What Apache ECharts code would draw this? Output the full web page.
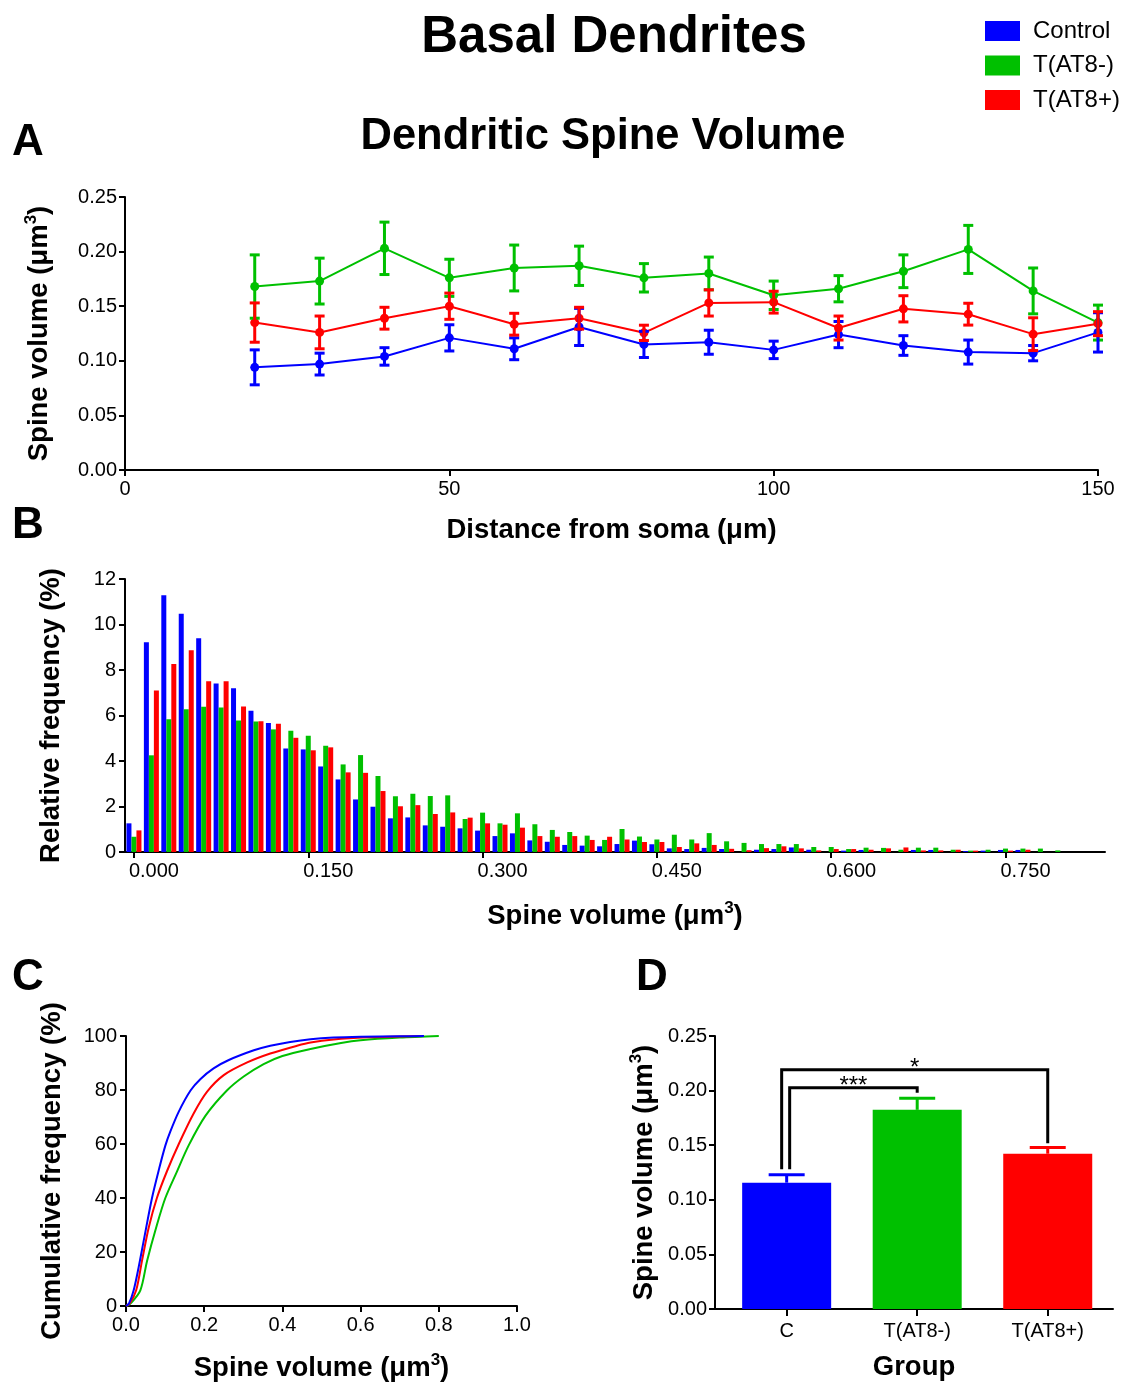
<!DOCTYPE html>
<html>
<head>
<meta charset="utf-8">
<script src="https://cdn.jsdelivr.net/npm/echarts@6/dist/echarts.min.js"></script>
<style>
html,body{margin:0;padding:0;background:#fff;}
#chart{width:1126px;height:1383px;}
</style>
</head>
<body>
<div id="chart"></div>
<script>
// ---------- DATA ----------
const groupNames = ['Control', 'T(AT8-)', 'T(AT8+)'];
const groupLabels = ['C', 'T(AT8-)', 'T(AT8+)'];

// Panel A: spine volume vs distance from soma
const distanceUm = [20, 30, 40, 50, 60, 70, 80, 90, 100, 110, 120, 130, 140, 150];
const ctrlMeanA = [0.094, 0.097, 0.104, 0.121, 0.111, 0.131, 0.115, 0.117, 0.110, 0.124, 0.114, 0.108, 0.107, 0.126];
const ctrlSemA  = [0.016, 0.010, 0.008, 0.012, 0.010, 0.017, 0.012, 0.011, 0.008, 0.012, 0.009, 0.011, 0.007, 0.018];
const negMeanA  = [0.168, 0.173, 0.203, 0.176, 0.185, 0.187, 0.176, 0.180, 0.160, 0.166, 0.182, 0.202, 0.164, 0.135];
const negSemA   = [0.029, 0.021, 0.024, 0.017, 0.021, 0.018, 0.013, 0.015, 0.013, 0.012, 0.015, 0.022, 0.021, 0.016];
const posMeanA  = [0.135, 0.126, 0.139, 0.150, 0.1335, 0.139, 0.1256, 0.153, 0.1537, 0.130, 0.1476, 0.1427, 0.1244, 0.134];
const posSemA   = [0.018, 0.015, 0.010, 0.012, 0.010, 0.010, 0.007, 0.012, 0.010, 0.011, 0.012, 0.010, 0.015, 0.011];

// Panel B: relative frequency histogram (bin centres, um^3)
const binCenters = [0.000, 0.015, 0.030, 0.045, 0.060, 0.075, 0.090, 0.105, 0.120, 0.135,
  0.150, 0.165, 0.180, 0.195, 0.210, 0.225, 0.240, 0.255, 0.270, 0.285,
  0.300, 0.315, 0.330, 0.345, 0.360, 0.375, 0.390, 0.405, 0.420, 0.435,
  0.450, 0.465, 0.480, 0.495, 0.510, 0.525, 0.540, 0.555, 0.570, 0.585,
  0.600, 0.615, 0.630, 0.645, 0.660, 0.675, 0.690, 0.705, 0.720, 0.735,
  0.750, 0.765, 0.780, 0.795];
const ctrlFreq = [1.26, 9.22, 11.29, 10.47, 9.40, 7.41, 7.20, 6.21, 5.67, 4.55,
  4.51, 3.76, 3.19, 2.31, 1.99, 1.48, 1.52, 1.17, 1.11, 1.04,
  0.94, 0.70, 0.82, 0.51, 0.45, 0.31, 0.28, 0.25, 0.35, 0.50,
  0.34, 0.16, 0.13, 0.18, 0.13, 0, 0.10, 0.13, 0.20, 0.10,
  0, 0.06, 0.09, 0, 0, 0.09, 0.09, 0, 0.04, 0.06,
  0.09, 0.09, 0, 0];
const negFreq = [0.67, 4.25, 5.83, 6.27, 6.38, 6.35, 5.78, 5.74, 5.39, 5.33,
  5.11, 4.67, 3.85, 4.26, 3.34, 2.45, 2.56, 2.46, 2.49, 1.45,
  1.73, 1.26, 1.70, 1.22, 0.97, 0.88, 0.72, 0.53, 1.01, 0.68,
  0.55, 0.76, 0.55, 0.83, 0.47, 0.40, 0.35, 0.35, 0.35, 0.22,
  0.22, 0.13, 0.19, 0.18, 0.10, 0.19, 0.19, 0.10, 0.06, 0.10,
  0.15, 0.15, 0.15, 0.07];
const posFreq = [0.95, 7.10, 8.26, 8.87, 7.51, 7.51, 6.40, 5.75, 5.64, 5.02,
  4.47, 4.60, 3.50, 3.48, 2.68, 2.01, 2.06, 1.67, 1.74, 1.51,
  1.26, 1.20, 1.07, 0.70, 0.67, 0.70, 0.53, 0.67, 0.55, 0.44,
  0.44, 0.22, 0.38, 0.31, 0.14, 0.08, 0.17, 0.25, 0.16, 0.07,
  0.13, 0.13, 0.10, 0.16, 0.20, 0.07, 0.07, 0.10, 0.06, 0,
  0.06, 0.10, 0, 0];
const histTicks = [0, 0.15, 0.30, 0.45, 0.60, 0.75];

// Panel C: cumulative frequency [volume, %]
const ctrlCum = [[0,0],[0.008,1],[0.0196,5.8],[0.0324,14.4],[0.0452,24.1],[0.0665,40],[0.085,51],[0.1006,59.4],
  [0.113,64.5],[0.135,72],[0.165,79.8],[0.19,84],[0.224,88],[0.263,91.1],[0.327,94.7],[0.369,96.4],
  [0.42,97.8],[0.472,98.8],[0.531,99.4],[0.6,99.7],[0.7,99.9],[0.762,100]];
const negCum = [[0,0],[0.012,1],[0.0367,5.8],[0.054,16.8],[0.077,29],[0.1006,40],[0.130,49.7],[0.160,59.4],
  [0.203,70.4],[0.258,79.8],[0.301,85],[0.352,89.6],[0.4,92.6],[0.472,95.2],[0.55,97.4],[0.6,98.4],
  [0.7,99.4],[0.8,100]];
const posCum = [[0,0],[0.01,1],[0.026,5.8],[0.041,16.8],[0.058,29],[0.079,40],[0.105,50],[0.135,60],
  [0.173,71.3],[0.207,79.3],[0.25,85.5],[0.31,90.2],[0.369,93.5],[0.4375,96.4],[0.472,97.6],[0.531,98.7],
  [0.617,99.5],[0.7,99.8],[0.762,100]];

// Panel D: group means
const groupMeanD = [0.1157, 0.1824, 0.1422];
const groupSemD  = [0.0073, 0.0106, 0.0058];
const sigFrom = [0, 0];
const sigTo = [2, 1];
const sigTop = [0.219, 0.2025];
const sigLeftBottom = [0.128, 0.128];
const sigRightBottom = [0.1517, 0.198];
const sigLabels = ['*', '***'];

// ---------- STYLE ----------
const FF = '"Liberation Sans", Arial, Helvetica, sans-serif';
const COLORS = ['#0000FF', '#00C000', '#FF0000'];
const NAME_SIZE = 27.5;

const chart = echarts.init(document.getElementById('chart'), null, {renderer: 'canvas'});

function nameRich(size) {
  return {
    a: {fontSize: size, fontWeight: 'bold', fontFamily: FF, color: '#000', lineHeight: 32},
    s: {fontSize: 17, fontWeight: 'bold', fontFamily: FF, color: '#000', lineHeight: 32, verticalAlign: 'top'}
  };
}
const volName = '{a|Spine volume (μm}{s|3}{a|)}';

function axisBase(extra) {
  return Object.assign({
    axisLine: {show: true, onZero: false, lineStyle: {color: '#000', width: 2}},
    axisTick: {show: true, length: 6, lineStyle: {color: '#000', width: 2}},
    axisLabel: {color: '#000', fontSize: 20, fontFamily: FF, margin: 9},
    splitLine: {show: false},
    nameLocation: 'middle',
    nameTextStyle: {fontSize: NAME_SIZE, fontWeight: 'bold', fontFamily: FF, color: '#000'}
  }, extra);
}

function errRender(params, api) {
  const x = api.value(0), lo = api.value(1), hi = api.value(2);
  const p1 = api.coord([x, hi]), p2 = api.coord([x, lo]);
  const cap = 5;
  const style = {stroke: api.visual('color'), lineWidth: 3};
  return {type: 'group', children: [
    {type: 'line', shape: {x1: p1[0], y1: p1[1], x2: p2[0], y2: p2[1]}, style: style},
    {type: 'line', shape: {x1: p1[0] - cap, y1: p1[1], x2: p1[0] + cap, y2: p1[1]}, style: style},
    {type: 'line', shape: {x1: p2[0] - cap, y1: p2[1], x2: p2[0] + cap, y2: p2[1]}, style: style}
  ]};
}

function errData(means, sems) {
  return distanceUm.map((d, i) => [d, means[i] - sems[i], means[i] + sems[i]]);
}

const meansA = [ctrlMeanA, negMeanA, posMeanA];
const semsA = [ctrlSemA, negSemA, posSemA];
const freqs = [ctrlFreq, negFreq, posFreq];
const cums = [ctrlCum, negCum, posCum];

const series = [];
// Panel A (draw order: green, blue, red)
[1, 0, 2].forEach(g => {
  series.push({
    name: groupNames[g], type: 'line', xAxisIndex: 0, yAxisIndex: 0,
    data: distanceUm.map((d, i) => [d, meansA[g][i]]),
    symbol: 'circle', symbolSize: 9,
    itemStyle: {color: COLORS[g]}, lineStyle: {color: COLORS[g], width: 2},
    z: 3
  });
  series.push({
    name: groupNames[g] + ' SEM', type: 'custom', xAxisIndex: 0, yAxisIndex: 0,
    data: errData(meansA[g], semsA[g]), renderItem: errRender,
    encode: {x: 0, y: [1, 2]}, itemStyle: {color: COLORS[g]}, z: 4
  });
});
// Panel B histogram
[0, 1, 2].forEach(g => {
  series.push({
    name: groupNames[g], type: 'bar', xAxisIndex: 1, yAxisIndex: 1,
    data: binCenters.map((c, i) => [c, freqs[g][i]]),
    barWidth: 5, barGap: '0%',
    itemStyle: {color: COLORS[g]}
  });
});
// Panel C cumulative
[1, 2, 0].forEach(g => {
  series.push({
    name: groupNames[g], type: 'line', xAxisIndex: 2, yAxisIndex: 2,
    data: cums[g], showSymbol: false, symbol: 'none',
    smooth: 0.3,
    itemStyle: {color: COLORS[g]}, lineStyle: {color: COLORS[g], width: 2}
  });
});
// Panel D bars
series.push({
  name: 'Group mean', type: 'bar', xAxisIndex: 3, yAxisIndex: 3,
  data: groupMeanD.map((m, i) => ({value: [i, m], itemStyle: {color: COLORS[i]}})),
  barWidth: 89
});
series.push({
  name: 'Group SEM', type: 'custom', xAxisIndex: 3, yAxisIndex: 3,
  data: groupMeanD.map((m, i) => [i, m, m + groupSemD[i]]),
  encode: {x: 0, y: [1, 2]},
  renderItem: function (params, api) {
    const i = api.value(0);
    const p1 = api.coord([i, api.value(1)]), p2 = api.coord([i, api.value(2)]);
    const st = {stroke: COLORS[params.dataIndex], lineWidth: 3};
    return {type: 'group', children: [
      {type: 'line', shape: {x1: p1[0], y1: p1[1], x2: p2[0], y2: p2[1]}, style: st},
      {type: 'line', shape: {x1: p2[0] - 18, y1: p2[1], x2: p2[0] + 18, y2: p2[1]}, style: st}
    ]};
  }, z: 3
});
series.push({
  name: 'Significance', type: 'custom', xAxisIndex: 3, yAxisIndex: 3,
  data: sigFrom.map((f, i) => [f, sigTo[i], sigTop[i], sigLeftBottom[i], sigRightBottom[i]]),
  encode: {x: [0, 1], y: [2, 3, 4]},
  renderItem: function (params, api) {
    const legOffset = [-5, 3][params.dataIndex];
    const f = api.value(0), t = api.value(1), top = api.value(2);
    const pl = api.coord([f, top]), pr = api.coord([t, top]);
    const lx = pl[0] + legOffset, rx = pr[0], ty = pl[1];
    const lyb = api.coord([f, api.value(3)])[1];
    const ryb = api.coord([t, api.value(4)])[1];
    return {type: 'group', children: [
      {type: 'polyline', shape: {points: [[lx, lyb], [lx, ty], [rx, ty], [rx, ryb]]},
        style: {stroke: '#000', lineWidth: 3, fill: null}},
      {type: 'text', x: (lx + rx) / 2, y: ty - 1,
        style: {text: sigLabels[params.dataIndex], fontSize: 24, fontFamily: FF, fill: '#000',
          align: 'center', verticalAlign: 'middle'}}
    ]};
  }, z: 5
});

const option = {
  animation: false,
  backgroundColor: '#fff',
  textStyle: {fontFamily: FF},
  title: [
    {text: 'Basal Dendrites', left: 609, top: 7, textAlign: 'center',
      textStyle: {fontSize: 51, fontWeight: 'bold', fontFamily: FF, color: '#000'}},
    {text: 'Dendritic Spine Volume', left: 598, top: 110, textAlign: 'center',
      textStyle: {fontSize: 43.5, fontWeight: 'bold', fontFamily: FF, color: '#000'}}
  ],
  legend: {
    data: groupNames, orient: 'vertical', left: 980, top: 14,
    icon: 'rect', itemWidth: 35, itemHeight: 20, itemGap: 10.5,
    textStyle: {fontSize: 24, fontFamily: FF, color: '#000', padding: [0, 0, 0, 8]},
    selectedMode: false
  },
  graphic: [
    {type: 'text', left: 12, top: 121, style: {text: 'A', fontSize: 44, fontWeight: 'bold', fontFamily: FF, fill: '#000'}},
    {type: 'text', left: 12, top: 504, style: {text: 'B', fontSize: 44, fontWeight: 'bold', fontFamily: FF, fill: '#000'}},
    {type: 'text', left: 12, top: 956, style: {text: 'C', fontSize: 44, fontWeight: 'bold', fontFamily: FF, fill: '#000'}},
    {type: 'text', left: 636, top: 956, style: {text: 'D', fontSize: 44, fontWeight: 'bold', fontFamily: FF, fill: '#000'}}
  ],
  grid: [
    {left: 125, top: 197, width: 973, height: 273},
    {left: 125, top: 579, width: 980, height: 273},
    {left: 126, top: 1036, width: 391, height: 273},
    {left: 715, top: 1036, width: 398, height: 273}
  ],
  xAxis: [
    axisBase({type: 'value', gridIndex: 0, min: 0, max: 150, interval: 50,
      name: 'Distance from soma (μm)', nameGap: 46}),
    axisBase({type: 'value', gridIndex: 1, min: -0.0077, max: 0.8356,
      axisTick: {show: true, length: 6, customValues: histTicks, lineStyle: {color: '#000', width: 2}},
      axisLabel: {color: '#000', fontSize: 20, fontFamily: FF, margin: 9, customValues: histTicks,
        formatter: v => v.toFixed(3), padding: [0, 0, 0, 40]},
      name: volName, nameGap: 48, nameTextStyle: {rich: nameRich(NAME_SIZE)}}),
    axisBase({type: 'value', gridIndex: 2, min: 0, max: 1, interval: 0.2,
      axisLabel: {color: '#000', fontSize: 20, fontFamily: FF, margin: 9, formatter: v => v.toFixed(1)},
      name: volName, nameGap: 46, nameTextStyle: {rich: nameRich(NAME_SIZE)}}),
    axisBase({type: 'value', gridIndex: 3, min: -0.549, max: 2.5,
      axisTick: {show: true, length: 7, customValues: [0, 1, 2], lineStyle: {color: '#000', width: 2}},
      axisLabel: {color: '#000', fontSize: 20, fontFamily: FF, margin: 12, customValues: [0, 1, 2],
        formatter: v => groupLabels[Math.round(v)]},
      name: 'Group', nameGap: 44})
  ],
  yAxis: [
    axisBase({type: 'value', gridIndex: 0, min: 0, max: 0.25, interval: 0.05,
      axisLabel: {color: '#000', fontSize: 20, fontFamily: FF, margin: 8, formatter: v => v.toFixed(2)},
      name: volName, nameGap: 70, nameTextStyle: {rich: nameRich(NAME_SIZE)}}),
    axisBase({type: 'value', gridIndex: 1, min: 0, max: 12, interval: 2,
      name: 'Relative frequency (%)', nameGap: 60}),
    axisBase({type: 'value', gridIndex: 2, min: 0, max: 100, interval: 20,
      name: 'Cumulative frequency (%)', nameGap: 60}),
    axisBase({type: 'value', gridIndex: 3, min: 0, max: 0.25, interval: 0.05,
      axisLabel: {color: '#000', fontSize: 20, fontFamily: FF, margin: 8, formatter: v => v.toFixed(2)},
      name: volName, nameGap: 55, nameTextStyle: {rich: nameRich(NAME_SIZE)}})
  ],
  series: series
};
chart.setOption(option);
</script>
</body>
</html>
